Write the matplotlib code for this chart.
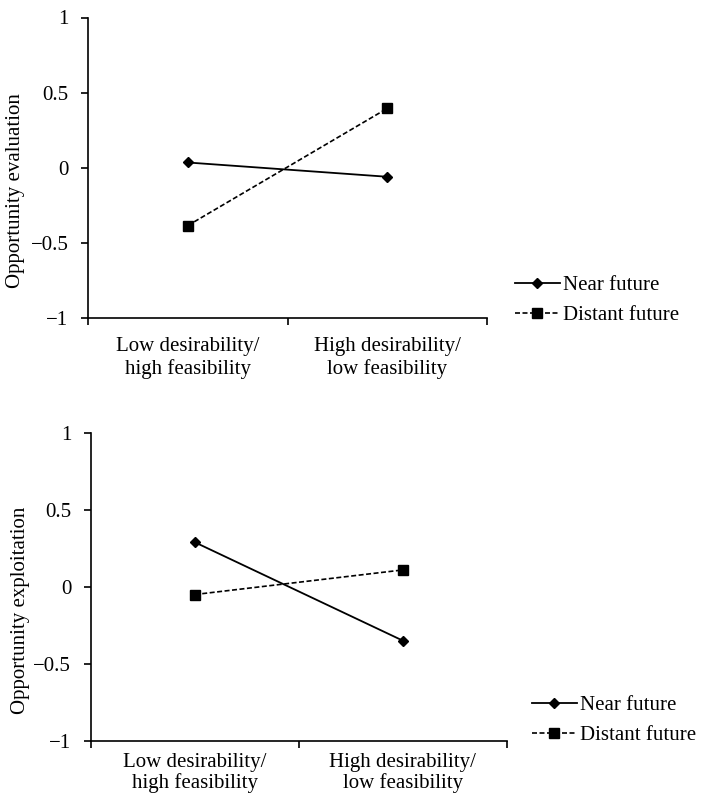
import numpy as np
import matplotlib
matplotlib.use("Agg")
import matplotlib.pyplot as plt

plt.rcParams['font.family'] = ['Liberation Serif', 'DejaVu Serif']

categories = ["Low desirability/\nhigh feasibility", "High desirability/\nlow feasibility"]
series = ["Near future", "Distant future"]
eval_near = [0.035, -0.06]
eval_distant = [-0.385, 0.395]
expl_near = [0.29, -0.35]
expl_distant = [-0.05, 0.11]
yticks = [-1, -0.5, 0, 0.5, 1]
ytick_labels = ["\u22121", "\u22120.5", "0", "0.5", "1"]

W, H = 702, 799
FS = 15
fig = plt.figure(figsize=(W / 100, H / 100), dpi=100)


def px_axes(left, right, top, bottom):
    return fig.add_axes([left / W, 1 - bottom / H, (right - left) / W, (bottom - top) / H])


def panel(ax, near, distant, ylabel, label_xy, legend_xy, xpad=14, lsp=1.2):
    xpos = np.arange(len(categories)) + 0.5
    ax.plot(xpos, near, color="black", lw=1.3, marker="D", ms=5.5,
            label=series[0])
    ax.plot(xpos, distant, color="black", lw=1.2, ls=(0, (3, 1.5)), marker="s",
            ms=7, label=series[1])
    ax.set_xlim(0, 2)
    ax.set_ylim(-1, 1)
    ax.spines[["top", "right"]].set_visible(False)
    ax.spines[["left", "bottom"]].set_linewidth(1.2)
    ax.set_yticks(yticks)
    ax.set_yticklabels(ytick_labels, fontsize=FS)
    ax.set_xticks([0, 1, 2])
    ax.set_xticklabels([])
    ax.set_xticks(xpos, minor=True)
    ax.set_xticklabels(categories, minor=True, fontsize=FS, linespacing=lsp)
    ax.tick_params(axis="x", which="minor", length=0, pad=xpad)
    ax.tick_params(axis="both", which="major", length=5, width=1.2, direction="out")
    ax.tick_params(axis="y", pad=9)
    ax.set_ylabel(ylabel, fontsize=FS)
    ax.yaxis.set_label_coords(*label_xy)
    ax.legend(loc="center left", bbox_to_anchor=legend_xy,
              bbox_transform=fig.transFigure, frameon=False, fontsize=FS,
              handlelength=2.15, handletextpad=0.15, labelspacing=0.5,
              borderpad=0, borderaxespad=0)


ax1 = px_axes(88, 487, 17.5, 318)
panel(ax1, eval_near, eval_distant, "Opportunity evaluation",
      (-0.158, 0.423), (515 / W, 1 - 300 / H))

ax2 = px_axes(90.7, 507, 433, 740.7)
panel(ax2, expl_near, expl_distant, "Opportunity exploitation",
      (-0.146, 0.425), (532 / W, 1 - 720 / H), xpad=9, lsp=1.08)

fig.savefig("out.png", dpi=100)
